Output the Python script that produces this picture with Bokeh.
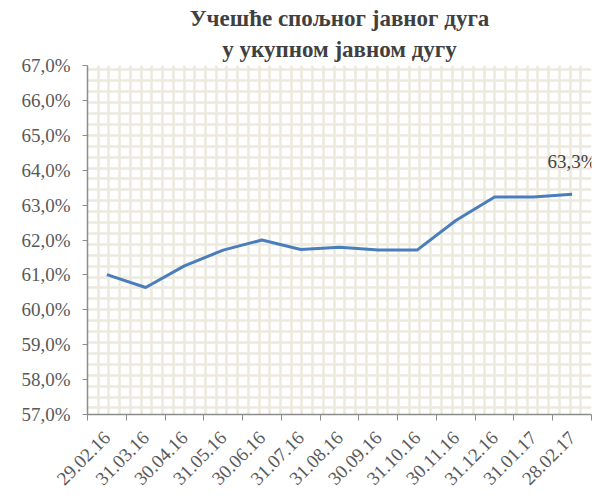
from bokeh.plotting import figure
from bokeh.models import Range1d, FixedTicker, SingleIntervalTicker, Label, Title
from bokeh.embed import file_html
from bokeh.resources import INLINE
import math

# ---- data ----
x_labels = ["29.02.16", "31.03.16", "30.04.16", "31.05.16", "30.06.16", "31.07.16",
            "31.08.16", "30.09.16", "31.10.16", "30.11.16", "31.12.16", "31.01.17", "28.02.17"]
values = [61.01, 60.64, 61.26, 61.71, 62.00, 61.73, 61.79, 61.71, 61.71, 62.56, 63.23, 63.23, 63.31]
y_ticks = [57, 58, 59, 60, 61, 62, 63, 64, 65, 66, 67]
y_tick_labels = ["57,0%", "58,0%", "59,0%", "60,0%", "61,0%", "62,0%", "63,0%",
                 "64,0%", "65,0%", "66,0%", "67,0%"]
title_lines = ["Учешће спољног јавног дуга", "у укупном јавном дугу"]

FONT = "Liberation Serif"
n = len(x_labels)
xs = [i + 0.5 for i in range(n)]

p = figure(width=600, height=496, output_backend="svg", toolbar_location=None,
           x_range=Range1d(0, n), y_range=Range1d(y_ticks[0], y_ticks[-1]),
           min_border_left=87, min_border_right=9, min_border_bottom=82, min_border_top=65)
p.background_fill_color = "white"
p.border_fill_color = "white"
p.outline_line_color = None

# title: two centred lines
p.title.text = title_lines[0]
p.title.align = "center"
p.title.text_font = FONT
p.title.text_font_size = "23px"
p.title.text_font_style = "bold"
p.title.text_color = "#404040"
p.title.text_line_height = 1.0
p.title.standoff = 0
t2 = Title(text=title_lines[1], align="center", text_font=FONT, text_font_size="23px",
           text_font_style="bold", text_color="#404040", text_line_height=1.0, standoff=8)
p.add_layout(t2, "above")

# pattern grid
p.xgrid.ticker = SingleIntervalTicker(interval=n / 47)
p.ygrid.ticker = SingleIntervalTicker(interval=10 / 32)
for g in (p.xgrid, p.ygrid):
    g.grid_line_color = "#ECE9DE"
    g.grid_line_width = 2.5

# x axis
xa = p.xaxis[0]
xa.ticker = FixedTicker(ticks=xs, minor_ticks=list(range(n + 1)))
xa.major_label_overrides = {x: lab for x, lab in zip(xs, x_labels)}
xa.major_tick_line_color = None
xa.minor_tick_line_color = "#8C8C8C"
xa.minor_tick_out = 6
xa.minor_tick_in = 0
xa.axis_line_color = "#8C8C8C"
xa.axis_line_width = 1.5
xa.major_label_orientation = math.pi / 4
xa.major_label_text_font = FONT
xa.major_label_text_font_size = "19px"
xa.major_label_text_color = "#595959"
xa.major_label_standoff = 14

# y axis
ya = p.yaxis[0]
ya.ticker = FixedTicker(ticks=y_ticks)
ya.major_label_overrides = {t: lab for t, lab in zip(y_ticks, y_tick_labels)}
ya.minor_tick_line_color = None
ya.major_tick_line_color = "#8C8C8C"
ya.major_tick_out = 5
ya.major_tick_in = 0
ya.axis_line_color = "#8C8C8C"
ya.axis_line_width = 1.5
ya.major_label_text_font = FONT
ya.major_label_text_font_size = "19px"
ya.major_label_text_color = "#595959"
ya.major_label_standoff = 12

# series
p.line(xs, values, line_color="#4A7EBB", line_width=3)

# data label for last point
last = f"{values[-1]:.1f}%".replace(".", ",")
p.add_layout(Label(x=xs[-1], y=values[-1], text=last, y_offset=22,
                   text_align="center", text_baseline="bottom",
                   text_font=FONT, text_font_size="19px", text_color="#404040"))

open("out.html", "w").write(file_html(p, INLINE))
